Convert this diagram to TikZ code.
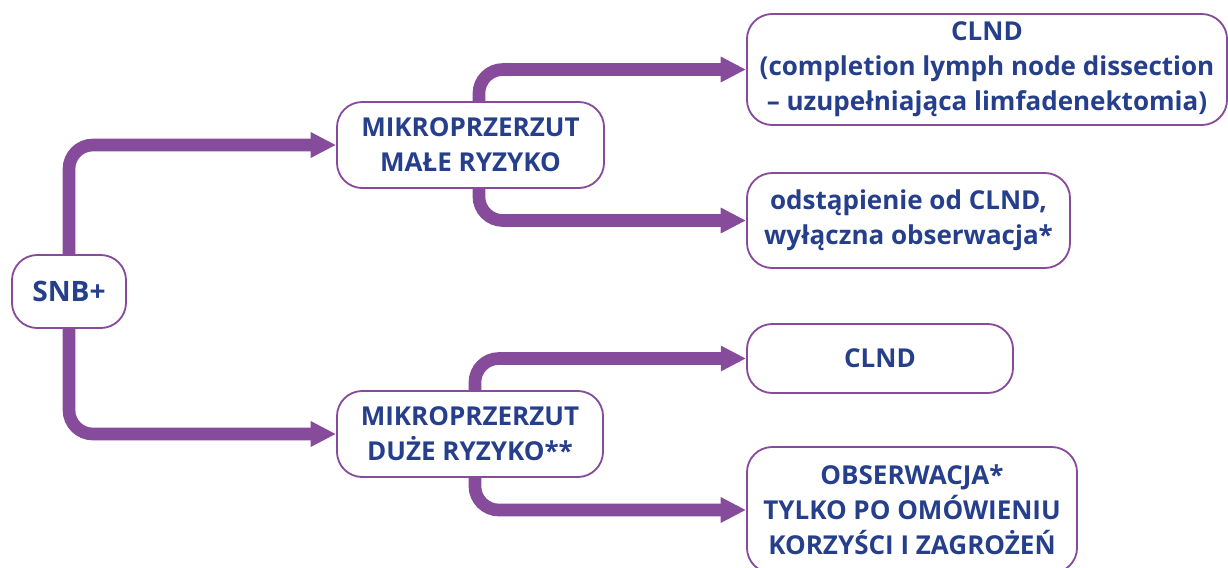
\documentclass[tikz,border=0pt]{standalone}
\usepackage{fontspec}
\setmainfont{Open Sans}
\usepackage{xcolor}
\definecolor{lilac}{HTML}{874B9B}
\definecolor{navy}{HTML}{263F8C}
\usepackage{tikz}
\usetikzlibrary{arrows.meta, positioning}

\begin{document}
\begin{tikzpicture}[x=0.025cm, y=-0.025cm,
  box/.style={draw=lilac, line width=1.3pt, rounded corners=18pt, fill=white,
    align=center, inner sep=0pt, text=navy,
    font=\bfseries\fontsize{18.5}{24.9}\selectfont},
  flow/.style={draw=lilac, line width=9pt, rounded corners=17pt,
    -{Triangle[length=18pt, width=17pt]}}]
  \useasboundingbox (0,0) rectangle (1228,567);

  % boxes
  \node[box, minimum width=2.85cm, minimum height=1.825cm, font=\bfseries\fontsize{20}{24.9}\selectfont] (snb) at (69,291.5) {SNB+};
  \node[box, minimum width=6.675cm, minimum height=2.15cm] (m1) at (470.5,145) {MIKROPRZERZUT\\MAŁE RYZYKO};
  \node[box, minimum width=6.65cm, minimum height=2.15cm] (m2) at (470,434) {MIKROPRZERZUT\\DUŻE RYZYKO**};
  \node[box, minimum width=12cm, minimum height=2.775cm] (clnd1) at (987,69.5)
    {CLND\\(completion lymph node dissection\\– uzupełniająca limfadenektomia)};
  \node[box, minimum width=8.075cm, minimum height=2.375cm] (odst) at (908.5,220.5)
    {odstąpienie od CLND,\\wyłączna obserwacja*};
  \node[box, minimum width=6.65cm, minimum height=1.725cm] (clnd2) at (880,358.5) {CLND};
  \node[box, minimum width=8.25cm, minimum height=3.15cm] (obs) at (912,510)
    {OBSERWACJA*\\TYLKO PO OMÓWIENIU\\KORZYŚCI I ZAGROŻEŃ};

  % arrows
  \draw[flow] (snb.north) |- (m1.west);
  \draw[flow] (snb.south) |- (m2.west);
  \draw[flow] ([xshift=6pt]m1.north) |- (clnd1.west);
  \draw[flow] ([xshift=6pt]m1.south) |- (odst.west);
  \draw[flow] ([xshift=3.5pt]m2.north) |- (clnd2.west);
  \draw[flow] ([xshift=3.5pt]m2.south) |- (obs.west);
\end{tikzpicture}
\end{document}
